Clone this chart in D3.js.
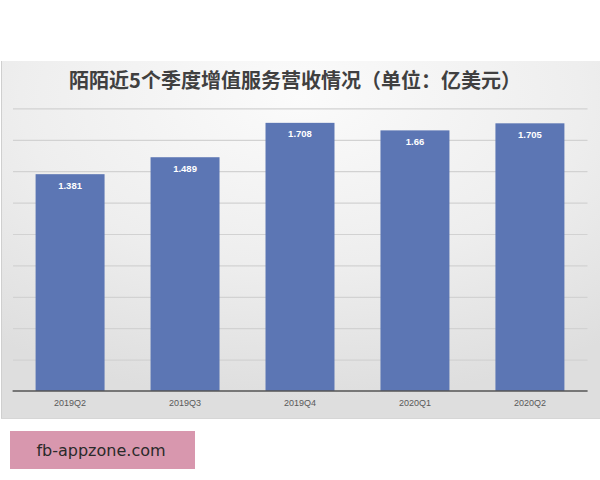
<!DOCTYPE html>
<html>
<head>
<meta charset="utf-8">
<script src="https://cdn.jsdelivr.net/npm/d3@7/dist/d3.min.js"></script>
<style>
  html, body { margin: 0; padding: 0; background: #ffffff; }
  svg { display: block; }
</style>
</head>
<body>
<script>
const categories = ["2019Q2", "2019Q3", "2019Q4", "2020Q1", "2020Q2"];
const values = [1.381, 1.489, 1.708, 1.66, 1.705];
const valueLabels = ["1.381", "1.489", "1.708", "1.66", "1.705"];
const gridTicks = [0.2, 0.4, 0.6, 0.8, 1.0, 1.2, 1.4, 1.6, 1.8];
const title = "陌陌近5个季度增值服务营收情况（单位：亿美元）";
const watermark = "fb-appzone.com";

const W = 600, H = 480;
const svg = d3.select("body").append("svg").attr("width", W).attr("height", H);

const defs = svg.append("defs");
const grad = defs.append("radialGradient").attr("id", "bg")
  .attr("cx", "50%").attr("cy", "10%").attr("r", "85%")
  .attr("fx", "50%").attr("fy", "10%");
grad.append("stop").attr("offset", "0%").attr("stop-color", "#fbfbfb");
grad.append("stop").attr("offset", "55%").attr("stop-color", "#eeeeee");
grad.append("stop").attr("offset", "100%").attr("stop-color", "#dedede");

// panel
svg.append("rect").attr("x", 1).attr("y", 61).attr("width", 599).attr("height", 358)
  .attr("fill", "url(#bg)");
svg.append("line").attr("x1", 1.5).attr("x2", 1.5).attr("y1", 61).attr("y2", 419)
  .attr("stroke", "#cfcfcf").attr("stroke-width", 1);
svg.append("line").attr("x1", 1).attr("x2", 600).attr("y1", 418.5).attr("y2", 418.5)
  .attr("stroke", "#d6d6d6").attr("stroke-width", 1);

const x = d3.scaleBand().domain(categories).range([12.6, 587.4])
  .paddingInner(0.4).paddingOuter(0.2);
const y = d3.scaleLinear().domain([0, 1.8]).range([391, 108.4]);

// gridlines
const grid = d3.axisLeft(y).tickValues(gridTicks).tickSize(-(587.5 - 13)).tickFormat("");
svg.append("g").attr("transform", "translate(13,0)").call(grid)
  .call(g => g.select(".domain").remove())
  .call(g => g.selectAll(".tick line").attr("stroke", "#d2d2d2").attr("stroke-width", 1.2));

// bars
svg.append("g").selectAll("rect").data(values).join("rect")
  .attr("x", (d, i) => x(categories[i]))
  .attr("y", d => y(d))
  .attr("width", x.bandwidth())
  .attr("height", d => y(0) - y(d))
  .attr("fill", "#5c76b4");

// value labels
svg.append("g").selectAll("text").data(values).join("text")
  .attr("x", (d, i) => x(categories[i]) + x.bandwidth() / 2)
  .attr("y", d => y(d) + 14.5)
  .attr("text-anchor", "middle")
  .attr("font-family", "Liberation Sans, Arial, sans-serif")
  .attr("font-size", 9.5).attr("font-weight", "bold")
  .attr("fill", "#ffffff")
  .text((d, i) => valueLabels[i]);

// x axis
const xAxis = d3.axisBottom(x).tickSize(0).tickPadding(9);
const xg = svg.append("g").attr("transform", "translate(0,391)").call(xAxis);
xg.select(".domain").remove();
xg.selectAll(".tick text").attr("font-family", "Liberation Sans, Arial, sans-serif")
  .attr("font-size", 9).attr("fill", "#595959");
svg.append("line").attr("x1", 12.6).attr("x2", 587.6).attr("y1", y(0)).attr("y2", y(0))
  .attr("stroke", "#555555").attr("stroke-width", 1.6);

// title
svg.append("text").attr("x", 295).attr("y", 88)
  .attr("text-anchor", "middle")
  .attr("font-family", "Noto Sans CJK SC, sans-serif")
  .attr("font-size", 20).attr("font-weight", "bold")
  .attr("fill", "#404040")
  .text(title);

// watermark
svg.append("rect").attr("x", 10).attr("y", 431).attr("width", 185).attr("height", 38)
  .attr("fill", "#d897ae");
svg.append("text").attr("x", 101).attr("y", 456)
  .attr("text-anchor", "middle")
  .attr("font-family", "DejaVu Sans, sans-serif")
  .attr("font-size", 16)
  .attr("fill", "#2a2a2a")
  .text(watermark);
</script>
</body>
</html>
